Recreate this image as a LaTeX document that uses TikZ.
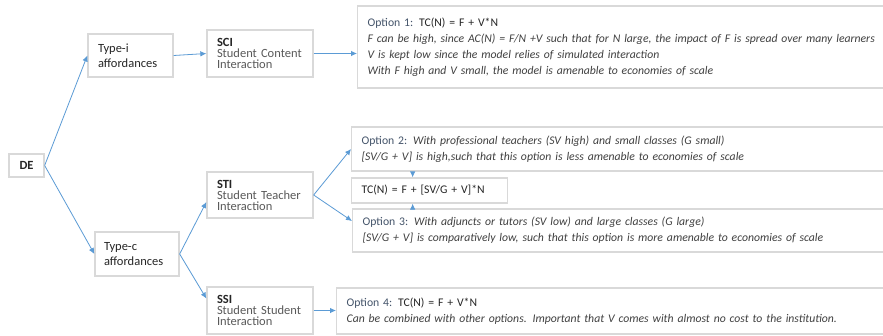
\documentclass[tikz,border=0pt]{standalone}
\usepackage{fontspec}
\setmainfont{Carlito}
\usetikzlibrary{arrows.meta,calc}
\definecolor{boxgray}{HTML}{D9D9D9}
\definecolor{arrowblue}{HTML}{5B9BD5}
\definecolor{optc}{HTML}{44546A}
\definecolor{maintext}{HTML}{262626}
\definecolor{ittext}{HTML}{404040}
\definecolor{subtext}{HTML}{595959}
\begin{document}
\begin{tikzpicture}[x=1pt,y=-1pt,
  box/.style={draw=boxgray, line width=1.3pt, fill=white, inner ysep=0pt, inner xsep=10pt, align=left, text=maintext},
  levelbox/.style={box, font=\fontsize{12.5}{15.5}\selectfont},
  kindbox/.style={box, font=\fontsize{12.5}{11}\selectfont, minimum width=106pt, text width=86pt},
  optbox/.style={box, anchor=west, font=\fontsize{11.7}{16}\selectfont, minimum width=560pt, text width=540pt},
  arr/.style={draw=arrowblue, line width=0.8pt, -{Latex[length=6pt,width=5.5pt]}}]
\useasboundingbox (0,0) rectangle (883,335);
\clip (0,0) rectangle (883,335);
\fill[white] (0,0) rectangle (883,335);

\node[levelbox, minimum width=35pt, minimum height=23pt, inner xsep=0pt, align=center] (de) at (26.5,165.5) {\textbf{DE}};
\node[levelbox, minimum width=85pt, text width=65pt, minimum height=43pt] (typei) at (130.5,55.5) {Type-i\\affordances};
\node[levelbox, minimum width=84pt, text width=66pt, inner xsep=9pt, minimum height=44pt] (typec) at (137,254) {Type-c\\affordances};

\node[kindbox, minimum height=47pt] (sci) at (260,53.5) {\textbf{SCI}\\\textcolor{subtext}{Student Content}\\\textcolor{subtext}{Interaction}};
\node[kindbox, minimum height=46pt] (sti) at (260,195) {\textbf{STI}\\\textcolor{subtext}{Student Teacher}\\\textcolor{subtext}{Interaction}};
\node[kindbox, minimum height=47pt] (ssi) at (260,310.5) {\textbf{SSI}\\\textcolor{subtext}{Student Student}\\\textcolor{subtext}{Interaction}};

\node[optbox, minimum height=82pt] (opt1) at (357,47) {\textcolor{optc}{Option 1:} TC(N) = F + V*N\\
\textcolor{ittext}{\itshape F can be high, since AC(N) = F/N +V such that for N large, the impact of F is spread over many learners}\\
\textcolor{ittext}{\itshape V is kept low since the model relies of simulated interaction}\\
\textcolor{ittext}{\itshape With F high and V small, the model is amenable to economies of scale}};

\node[optbox, minimum height=44pt] (opt2) at (351,149) {\textcolor{optc}{Option 2:} \textcolor{ittext}{\itshape With professional teachers (SV high) and small classes (G small)}\\
\textcolor{ittext}{\itshape [SV/G + V] is high,such that this option is less amenable to economies of scale}};

\node[box, anchor=west, font=\fontsize{11.7}{16}\selectfont, minimum width=156pt, text width=136pt, minimum height=25pt] (tc) at (351,190.5) {TC(N) = F + [SV/G + V]*N};

\node[optbox, minimum height=43pt] (opt3) at (352,230.5) {\textcolor{optc}{Option 3:} \textcolor{ittext}{\itshape With adjuncts or tutors (SV low) and large classes (G large)}\\
\textcolor{ittext}{\itshape [SV/G + V] is comparatively low, such that this option is more amenable to economies of scale}};

\node[optbox, minimum height=46pt] (opt4) at (336,311) {\textcolor{optc}{Option 4:} TC(N) = F + V*N\\
\textcolor{ittext}{\itshape Can be combined with other options. Important that V comes with almost no cost to the institution.}};

\coordinate (tcn) at ([xshift=-17pt]tc.north);
\coordinate (tcs) at ([xshift=-17pt]tc.south);

\draw[arr] (de.east) -- (typei.west);
\draw[arr] (de.east) -- (typec.west);
\draw[arr] (typei.east) -- (sci.west);
\draw[arr] (sci.east) -- (sci.east -| opt1.west);
\draw[arr] (typec.east) -- ([yshift=-7pt]sti.west);
\draw[arr] (typec.east) -- ([yshift=12pt]ssi.west);
\draw[arr] (sti.east) -- (opt2.west);
\draw[arr] (sti.east) -- ([yshift=9.5pt]opt3.west);
\draw[arr] (tcn |- opt2.south) -- (tcn);
\draw[arr] (tcs |- opt3.north) -- (tcs);
\draw[arr] (ssi.east) -- (ssi.east -| opt4.west);
\end{tikzpicture}
\end{document}
